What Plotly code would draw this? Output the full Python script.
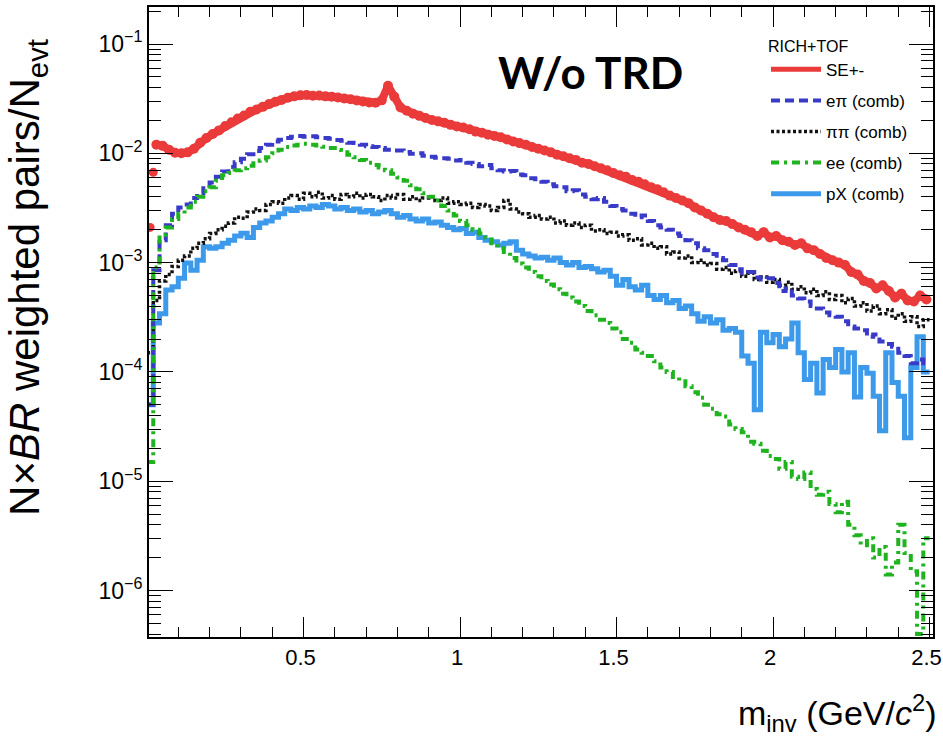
import plotly.graph_objects as go

# ---- histogram binning (GeV/c^2) ----
bin_width = 0.02
bin_edges = [round(bin_width * k, 2) for k in range(126)]
bin_centers = [round((a + b) / 2, 3) for a, b in zip(bin_edges[:-1], bin_edges[1:])]

# ---- series: N x BR weighted pairs / N_evt per bin ----
se_pm = [
    2.1e-3, 1.20e-2, 1.17e-2, 1.08e-2, 1.01e-2, 1.00e-2, 1.02e-2, 1.10e-2, 1.25e-2, 1.38e-2,
    1.50e-2, 1.62e-2, 1.78e-2, 1.92e-2, 2.08e-2, 2.22e-2, 2.40e-2, 2.52e-2, 2.66e-2, 2.82e-2,
    2.96e-2, 3.08e-2, 3.22e-2, 3.32e-2, 3.40e-2, 3.42e-2, 3.36e-2, 3.38e-2, 3.32e-2, 3.30e-2,
    3.24e-2, 3.18e-2, 3.12e-2, 3.04e-2, 2.98e-2, 2.92e-2, 2.90e-2, 3.05e-2, 4.15e-2, 3.30e-2,
    2.62e-2, 2.45e-2, 2.30e-2, 2.20e-2, 2.10e-2, 2.02e-2, 1.96e-2, 1.90e-2, 1.82e-2, 1.76e-2,
    1.72e-2, 1.66e-2, 1.58e-2, 1.54e-2, 1.48e-2, 1.44e-2, 1.40e-2, 1.34e-2, 1.28e-2, 1.24e-2,
    1.20e-2, 1.14e-2, 1.10e-2, 1.06e-2, 1.02e-2, 9.7e-3, 9.4e-3, 9.0e-3, 8.7e-3, 8.2e-3,
    8.0e-3, 7.6e-3, 7.3e-3, 7.0e-3, 6.6e-3, 6.3e-3, 6.1e-3, 5.7e-3, 5.5e-3, 5.2e-3,
    4.9e-3, 4.7e-3, 4.4e-3, 4.1e-3, 3.9e-3, 3.7e-3, 3.5e-3, 3.2e-3, 3.0e-3, 2.8e-3,
    2.6e-3, 2.45e-3, 2.4e-3, 2.25e-3, 2.1e-3, 2.0e-3, 1.9e-3, 1.75e-3, 1.9e-3, 1.7e-3,
    1.75e-3, 1.6e-3, 1.55e-3, 1.45e-3, 1.5e-3, 1.35e-3, 1.3e-3, 1.2e-3, 1.1e-3, 1.05e-3,
    1.0e-3, 9.5e-4, 8.2e-4, 7.8e-4, 6.8e-4, 6.5e-4, 5.8e-4, 6.2e-4, 5.5e-4, 4.8e-4,
    5.2e-4, 4.5e-4, 4.4e-4, 5.0e-4, 4.6e-4,
]
# extra fine-binned SE point in the first bin
se_lead_mass = [0.02]
se_lead = [6.7e-3]

e_pi = [
    5.0e-5, 8.5e-4, 1.6e-3, 2.2e-3, 2.8e-3, 3.2e-3, 3.4e-3, 3.9e-3, 4.3e-3, 4.8e-3,
    5.4e-3, 6.1e-3, 6.8e-3, 7.5e-3, 8.3e-3, 8.9e-3, 9.8e-3, 1.05e-2, 1.12e-2, 1.20e-2,
    1.28e-2, 1.33e-2, 1.38e-2, 1.42e-2, 1.44e-2, 1.42e-2, 1.43e-2, 1.40e-2, 1.38e-2, 1.36e-2,
    1.32e-2, 1.30e-2, 1.25e-2, 1.24e-2, 1.20e-2, 1.16e-2, 1.14e-2, 1.12e-2, 1.08e-2, 1.06e-2,
    1.06e-2, 1.03e-2, 9.9e-3, 1.0e-2, 9.5e-3, 9.3e-3, 9.1e-3, 9.0e-3, 8.9e-3, 8.6e-3,
    8.7e-3, 8.2e-3, 8.0e-3, 7.6e-3, 7.8e-3, 7.3e-3, 7.0e-3, 6.8e-3, 6.9e-3, 6.4e-3,
    6.3e-3, 5.9e-3, 5.8e-3, 5.5e-3, 5.2e-3, 5.0e-3, 4.9e-3, 4.5e-3, 4.6e-3, 4.2e-3,
    4.0e-3, 3.8e-3, 3.9e-3, 3.6e-3, 3.3e-3, 3.1e-3, 3.0e-3, 2.8e-3, 2.6e-3, 2.7e-3,
    2.4e-3, 2.2e-3, 2.1e-3, 2.0e-3, 1.85e-3, 1.75e-3, 1.6e-3, 1.5e-3, 1.35e-3, 1.3e-3,
    1.2e-3, 1.1e-3, 1.05e-3, 9.5e-4, 8.7e-4, 8.0e-4, 8.2e-4, 7.3e-4, 7.0e-4, 7.2e-4,
    6.5e-4, 5.5e-4, 5.8e-4, 5.0e-4, 4.7e-4, 4.4e-4, 4.0e-4, 3.8e-4, 3.5e-4, 3.3e-4,
    3.2e-4, 2.9e-4, 2.6e-4, 2.5e-4, 2.4e-4, 2.1e-4, 2.2e-4, 1.9e-4, 1.8e-4, 1.7e-4,
    1.5e-4, 1.4e-4, 1.2e-4, 1.3e-4, 1.2e-4,
]

pi_pi = [
    1.5e-4, 4.5e-4, 6.8e-4, 7.8e-4, 9.2e-4, 1.05e-3, 1.15e-3, 1.35e-3, 1.5e-3, 1.65e-3,
    1.85e-3, 2.0e-3, 2.15e-3, 2.3e-3, 2.6e-3, 2.55e-3, 2.9e-3, 3.1e-3, 3.0e-3, 3.4e-3,
    3.6e-3, 3.5e-3, 3.9e-3, 4.1e-3, 3.8e-3, 4.3e-3, 4.0e-3, 4.4e-3, 3.9e-3, 4.1e-3,
    3.8e-3, 4.2e-3, 4.0e-3, 4.3e-3, 3.9e-3, 4.2e-3, 4.0e-3, 3.7e-3, 4.1e-3, 3.9e-3,
    4.2e-3, 3.8e-3, 4.0e-3, 3.7e-3, 3.9e-3, 4.0e-3, 3.7e-3, 3.9e-3, 3.5e-3, 3.6e-3,
    3.4e-3, 3.5e-3, 3.2e-3, 3.4e-3, 3.3e-3, 3.0e-3, 3.2e-3, 3.7e-3, 3.1e-3, 2.9e-3,
    2.8e-3, 2.6e-3, 2.7e-3, 2.5e-3, 2.6e-3, 2.3e-3, 2.4e-3, 2.2e-3, 2.3e-3, 2.1e-3,
    2.2e-3, 1.95e-3, 2.0e-3, 1.85e-3, 1.9e-3, 1.75e-3, 1.8e-3, 1.6e-3, 1.65e-3, 1.45e-3,
    1.5e-3, 1.35e-3, 1.4e-3, 1.2e-3, 1.25e-3, 1.1e-3, 1.15e-3, 1.0e-3, 1.05e-3, 9.5e-4,
    9.8e-4, 8.7e-4, 9.0e-4, 8.0e-4, 8.4e-4, 7.5e-4, 8.0e-4, 7.0e-4, 7.4e-4, 6.6e-4,
    7.0e-4, 6.2e-4, 6.6e-4, 5.7e-4, 6.0e-4, 5.3e-4, 5.7e-4, 5.0e-4, 5.4e-4, 4.6e-4,
    5.0e-4, 4.3e-4, 4.7e-4, 4.0e-4, 4.3e-4, 3.6e-4, 4.0e-4, 3.4e-4, 3.7e-4, 3.1e-4,
    3.4e-4, 2.9e-4, 3.2e-4, 2.6e-4, 3.0e-4,
]

e_e = [
    1.5e-5, 9.0e-4, 1.8e-3, 2.1e-3, 2.5e-3, 2.8e-3, 3.2e-3, 3.6e-3, 4.0e-3, 4.5e-3,
    4.9e-3, 5.6e-3, 6.3e-3, 6.6e-3, 7.0e-3, 7.3e-3, 7.7e-3, 8.1e-3, 8.6e-3, 9.2e-3,
    1.0e-2, 1.08e-2, 1.14e-2, 1.18e-2, 1.2e-2, 1.22e-2, 1.2e-2, 1.18e-2, 1.15e-2, 1.12e-2,
    1.07e-2, 1.02e-2, 9.7e-3, 9.2e-3, 8.7e-3, 8.2e-3, 7.8e-3, 7.4e-3, 7.0e-3, 6.5e-3,
    6.0e-3, 5.6e-3, 5.1e-3, 4.7e-3, 4.3e-3, 4.0e-3, 3.7e-3, 3.3e-3, 3.0e-3, 2.7e-3,
    2.4e-3, 2.2e-3, 2.0e-3, 1.85e-3, 1.7e-3, 1.5e-3, 1.35e-3, 1.25e-3, 1.1e-3, 9.8e-4,
    9.0e-4, 8.2e-4, 7.5e-4, 6.8e-4, 6.3e-4, 5.7e-4, 5.2e-4, 4.8e-4, 4.4e-4, 4.0e-4,
    3.6e-4, 3.3e-4, 3.0e-4, 2.8e-4, 2.5e-4, 2.3e-4, 2.0e-4, 1.85e-4, 1.6e-4, 1.5e-4,
    1.4e-4, 1.25e-4, 1.1e-4, 1.0e-4, 9.0e-5, 8.2e-5, 7.4e-5, 6.5e-5, 5.8e-5, 5.0e-5,
    4.6e-5, 4.1e-5, 3.9e-5, 3.3e-5, 3.0e-5, 2.8e-5, 2.3e-5, 2.2e-5, 1.9e-5, 1.7e-5,
    1.6e-5, 1.3e-5, 1.5e-5, 1.1e-5, 1.05e-5, 1.2e-5, 8.5e-6, 7.5e-6, 8.0e-6, 6.2e-6,
    5.2e-6, 6.5e-6, 4.0e-6, 3.2e-6, 2.6e-6, 3.0e-6, 2.0e-6, 2.5e-6, 1.4e-6, 1.8e-6,
    4.0e-6, 2.2e-6, 1.5e-6, 4.0e-7, 3.0e-6,
]

p_x = [
    5.0e-5, 2.8e-4, 3.4e-4, 5.6e-4, 6.0e-4, 7.2e-4, 9.9e-4, 8.5e-4, 1.05e-3, 1.4e-3,
    1.35e-3, 1.4e-3, 1.5e-3, 1.6e-3, 1.75e-3, 1.86e-3, 1.7e-3, 2.1e-3, 2.3e-3, 2.4e-3,
    2.6e-3, 2.8e-3, 3.1e-3, 3.0e-3, 3.2e-3, 3.1e-3, 3.3e-3, 3.2e-3, 3.4e-3, 3.3e-3,
    3.1e-3, 3.2e-3, 3.0e-3, 3.1e-3, 2.9e-3, 3.0e-3, 2.8e-3, 2.9e-3, 3.0e-3, 2.8e-3,
    2.6e-3, 2.7e-3, 2.5e-3, 2.4e-3, 2.5e-3, 2.3e-3, 2.35e-3, 2.2e-3, 2.1e-3, 2.0e-3,
    2.05e-3, 1.85e-3, 1.9e-3, 1.7e-3, 1.6e-3, 1.55e-3, 1.45e-3, 1.5e-3, 1.55e-3, 1.3e-3,
    1.2e-3, 1.15e-3, 1.1e-3, 1.12e-3, 1.05e-3, 1.1e-3, 1.0e-3, 9.5e-4, 1.0e-3, 9.0e-4,
    9.2e-4, 8.8e-4, 8.2e-4, 8.5e-4, 7.5e-4, 6.2e-4, 7.0e-4, 6.0e-4, 5.6e-4, 6.2e-4,
    5.0e-4, 4.6e-4, 5.0e-4, 4.3e-4, 4.5e-4, 3.8e-4, 4.0e-4, 3.4e-4, 2.9e-4, 3.2e-4,
    2.8e-4, 3.0e-4, 2.4e-4, 2.5e-4, 2.3e-4, 1.4e-4, 1.2e-4, 4.5e-5, 2.3e-4, 1.85e-4,
    2.2e-4, 1.7e-4, 2.0e-4, 2.8e-4, 1.5e-4, 8.5e-5, 1.2e-4, 6.4e-5, 1.3e-4, 1.1e-4,
    1.6e-4, 1.0e-4, 1.5e-4, 5.9e-5, 1.1e-4, 9.7e-5, 6.0e-5, 2.9e-5, 1.5e-4, 8.0e-5,
    6.0e-5, 2.5e-5, 1.1e-4, 2.1e-4, 1.0e-4,
]

# ---- axis tick labels ----
x_tick_vals = [0.5, 1.0, 1.5, 2.0, 2.5]
x_tick_text = ["0.5", "1", "1.5", "2", "2.5"]
y_tick_exps = [-6, -5, -4, -3, -2, -1]
y_tick_vals = [10.0 ** e for e in y_tick_exps]
y_tick_text = ["10<sup>\u2212%d</sup>" % (-e) for e in y_tick_exps]
y_minor_vals = [k * 10.0 ** e for e in range(-7, 0) for k in range(2, 10)]

RED = "#ea3a3a"
BLUE = "#3a3ac8"
BLACK = "#111111"
GREEN = "#1fb41f"
LIGHTBLUE = "#3d9aeb"
SANS = "Liberation Sans, Arial, sans-serif"


def step_xy(values):
    """Histogram outline: each bin drawn flat from its low edge to its high edge."""
    return bin_edges, list(values) + [values[-1]]


fig = go.Figure()

# same-event pairs: the two lowest-mass points stand alone, the rest form a dense band
fig.add_trace(go.Scatter(
    x=bin_centers[:1] + se_lead_mass, y=se_pm[:1] + se_lead, mode="markers",
    showlegend=False, marker=dict(color=RED, size=9, line=dict(width=0)),
    hoverinfo="skip",
))
fig.add_trace(go.Scatter(
    x=bin_centers[1:], y=se_pm[1:], mode="lines+markers", showlegend=False,
    line=dict(color=RED, width=8),
    marker=dict(color=RED, size=10, symbol="circle", line=dict(width=0)),
    hoverinfo="skip",
))
fig.add_trace(go.Scatter(
    x=[None], y=[None], mode="lines", name="SE+-", legendgroup="se", legendrank=1,
    line=dict(color=RED, width=5),
))

hist_series = [
    ("pX (comb)", p_x, LIGHTBLUE, "solid", 5, 5),
    ("\u03c0\u03c0 (comb)", pi_pi, BLACK, "3px,2.5px", 3.5, 3),
    ("e\u03c0 (comb)", e_pi, BLUE, "9px,5px", 4, 2),
    ("ee (comb)", e_e, GREEN, "8px,5px,3px,5px", 4, 4),
]
for name, vals, color, dash, width, rank in hist_series:
    sx, sy = step_xy(vals)
    fig.add_trace(go.Scatter(
        x=sx, y=sy, mode="lines", name=name, legendgroup=name, legendrank=rank,
        line=dict(color=color, width=width, dash=dash, shape="hv"),
    ))

axis_common = dict(
    showline=True, linecolor="black", linewidth=2, mirror="allticks",
    ticks="inside", tickcolor="black", tickwidth=1.3,
    showgrid=False, zeroline=False, automargin=False,
)

fig.update_xaxes(
    range=[0.0064, 2.511],
    tickmode="array", tickvals=x_tick_vals, ticktext=x_tick_text, ticklen=20,
    tickfont=dict(family=SANS, size=22, color="black"),
    ticklabeloverflow="allow", ticklabelshift=-3,
    minor=dict(ticks="inside", ticklen=10, dtick=0.1, tick0=0, tickcolor="black",
               tickwidth=1.1, showgrid=False),
    **axis_common,
)
fig.update_yaxes(
    type="log", range=[-6.4254, -0.6615],
    tickmode="array", tickvals=y_tick_vals, ticktext=y_tick_text, ticklen=24,
    tickfont=dict(family=SANS, size=23, color="black"),
    minor=dict(ticks="inside", ticklen=12, tickmode="array", tickvals=y_minor_vals,
               tickcolor="black", tickwidth=1.1, showgrid=False),
    **axis_common,
)

fig.update_layout(
    width=943, height=744,
    margin=dict(l=149, r=10, t=7, b=107, autoexpand=False),
    paper_bgcolor="white", plot_bgcolor="white",
    legend=dict(
        x=0.787, y=0.962, xanchor="left", yanchor="top",
        bgcolor="rgba(255,255,255,0)", borderwidth=0,
        traceorder="grouped", tracegroupgap=6, itemwidth=50,
        font=dict(family=SANS, size=17, color="black"),
        title=dict(text="RICH+TOF", font=dict(family=SANS, size=16, color="black")),
    ),
    annotations=[
        dict(text="<b>W/o TRD</b>", xref="paper", yref="paper", x=0.5625, y=0.897,
             xanchor="center", yanchor="middle", showarrow=False,
             font=dict(family="Lato, Liberation Sans, sans-serif", size=44, color="black")),
        dict(text="N\u00d7<i>BR</i> weighted pairs/N<sub>evt</sub>", xref="paper", yref="paper",
             x=-0.1543, y=0.57, xanchor="center", yanchor="middle", textangle=-90,
             showarrow=False,
             font=dict(family=SANS, size=42, color="black")),
        dict(text="m<sub>inv</sub> (GeV/<i>c</i><sup>2</sup>)", xref="paper", yref="paper",
             x=1.008, y=-0.1206, xanchor="right", yanchor="middle", showarrow=False,
             font=dict(family=SANS, size=34, color="black")),
    ],
)

fig.write_html("out.html")
